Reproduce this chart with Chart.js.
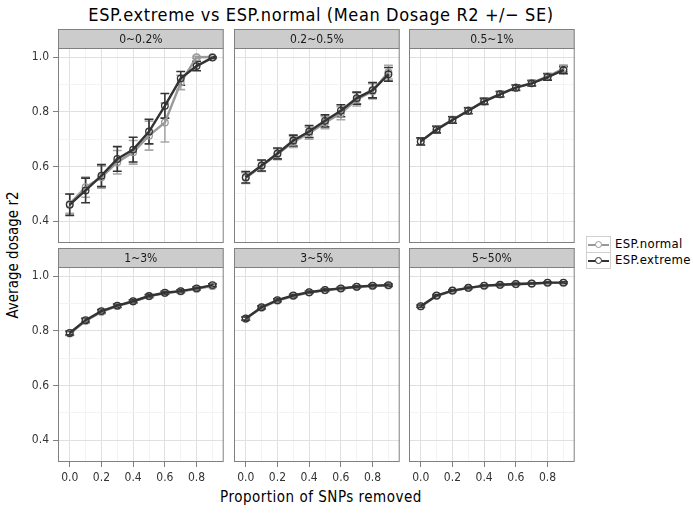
<!DOCTYPE html>
<html><head><meta charset="utf-8">
<script src="https://cdn.jsdelivr.net/npm/chart.js@4/dist/chart.umd.min.js"></script>
<style>
body{margin:0;background:#fff;width:693px;height:517px;position:relative;overflow:hidden;font-family:"Liberation Sans Narrow","DejaVu Sans Condensed","Roboto",sans-serif}
canvas{position:absolute}
.t{position:absolute;white-space:nowrap;color:#000}
.lg{position:absolute;left:586px;top:236px}
.row{position:relative;height:16px;width:110px}
.key{position:absolute;left:0;top:0;width:23px;height:15px;border:1px solid #d0d0d0;background:#fff}
.ln{position:absolute;left:1px;right:1px;top:6.5px;height:2px}
.cc{position:absolute;left:8px;top:4px;width:5px;height:5px;border-radius:50%;border:1.3px solid;background:#fff}
.lt{position:absolute;left:29px;top:0;font-size:13px;line-height:16px;color:#000;letter-spacing:0.3px}
</style></head><body>
<div class="t" style="left:0;width:642px;text-align:center;top:4px;font-size:18px;letter-spacing:0.6px">ESP.extreme vs ESP.normal (Mean Dosage R2 +/− SE)</div>
<div class="t" style="left:0;width:642px;text-align:center;top:488px;font-size:15px;letter-spacing:0.5px">Proportion of SNPs removed</div>
<div class="t" style="left:13px;top:255px;font-size:15px;transform:translate(-50%,-50%) rotate(-90deg)">Average dosage r2</div>
<div class="lg">
 <div class="row"><div class="key"><div class="ln" style="background:#999"></div><div class="cc" style="border-color:#999"></div></div><div class="lt">ESP.normal</div></div>
 <div class="row"><div class="key"><div class="ln" style="background:#333"></div><div class="cc" style="border-color:#333"></div></div><div class="lt">ESP.extreme</div></div>
</div>
<script>
// ---- data ----
const proportions = [0, 0.1, 0.2, 0.3, 0.4, 0.5, 0.6, 0.7, 0.8, 0.9];
const facetLabels = ["0~0.2%", "0.2~0.5%", "0.5~1%", "1~3%", "3~5%", "5~50%"];
const xTickValues = [0, 0.1, 0.2, 0.3, 0.4, 0.5, 0.6, 0.7, 0.8, 0.9];
const xTickLabels = ["0.0", "", "0.2", "", "0.4", "", "0.6", "", "0.8", ""];
const yTickValues = [0.4, 0.5, 0.6, 0.7, 0.8, 0.9, 1.0];
const yTickLabels = ["0.4", "", "0.6", "", "0.8", "", "1.0"];

const normal_0_02   = [0.464, 0.525, 0.561, 0.616, 0.652, 0.713, 0.761, 0.907, 0.999, 1.000];
const normalSE_0_02 = [0.035, 0.037, 0.040, 0.043, 0.043, 0.053, 0.071, 0.026, 0.004, 0.002];
const extreme_0_02   = [0.461, 0.513, 0.567, 0.628, 0.662, 0.728, 0.822, 0.922, 0.967, 0.998];
const extremeSE_0_02 = [0.039, 0.045, 0.040, 0.045, 0.045, 0.045, 0.045, 0.025, 0.017, 0.003];

const normal_02_05   = [0.558, 0.602, 0.645, 0.690, 0.722, 0.760, 0.795, 0.845, 0.875, 0.945];
const normalSE_02_05 = [0.020, 0.020, 0.020, 0.020, 0.022, 0.022, 0.024, 0.024, 0.028, 0.025];
const extreme_02_05   = [0.561, 0.604, 0.648, 0.695, 0.728, 0.767, 0.804, 0.850, 0.879, 0.937];
const extremeSE_02_05 = [0.021, 0.020, 0.020, 0.020, 0.022, 0.022, 0.022, 0.022, 0.028, 0.025];

const normal_05_1   = [0.692, 0.736, 0.771, 0.805, 0.839, 0.865, 0.889, 0.905, 0.929, 0.958];
const normalSE_05_1 = [0.013, 0.012, 0.012, 0.011, 0.011, 0.010, 0.010, 0.010, 0.012, 0.013];
const extreme_05_1   = [0.692, 0.735, 0.770, 0.804, 0.838, 0.864, 0.888, 0.904, 0.927, 0.952];
const extremeSE_05_1 = [0.013, 0.012, 0.012, 0.011, 0.011, 0.010, 0.010, 0.010, 0.012, 0.013];

const normal_1_3   = [0.790, 0.836, 0.869, 0.890, 0.907, 0.926, 0.938, 0.944, 0.953, 0.963];
const normalSE_1_3 = [0.007, 0.007, 0.006, 0.006, 0.005, 0.005, 0.005, 0.005, 0.005, 0.005];
const extreme_1_3   = [0.792, 0.839, 0.872, 0.892, 0.908, 0.927, 0.939, 0.945, 0.955, 0.967];
const extremeSE_1_3 = [0.007, 0.007, 0.006, 0.006, 0.005, 0.005, 0.005, 0.005, 0.005, 0.005];

const normal_3_5   = [0.844, 0.884, 0.910, 0.927, 0.940, 0.948, 0.954, 0.960, 0.963, 0.965];
const normalSE_3_5 = [0.006, 0.005, 0.005, 0.004, 0.004, 0.004, 0.004, 0.004, 0.004, 0.004];
const extreme_3_5   = [0.845, 0.886, 0.912, 0.929, 0.941, 0.949, 0.955, 0.961, 0.965, 0.967];
const extremeSE_3_5 = [0.006, 0.005, 0.005, 0.004, 0.004, 0.004, 0.004, 0.004, 0.004, 0.004];

const normal_5_50   = [0.889, 0.927, 0.946, 0.956, 0.964, 0.967, 0.970, 0.972, 0.975, 0.975];
const normalSE_5_50 = [0.004, 0.003, 0.003, 0.003, 0.003, 0.003, 0.003, 0.003, 0.003, 0.003];
const extreme_5_50   = [0.890, 0.929, 0.947, 0.957, 0.965, 0.968, 0.971, 0.973, 0.976, 0.976];
const extremeSE_5_50 = [0.004, 0.003, 0.003, 0.003, 0.003, 0.003, 0.003, 0.003, 0.003, 0.003];

const panelNormal = [normal_0_02, normal_02_05, normal_05_1, normal_1_3, normal_3_5, normal_5_50];
const panelNormalSE = [normalSE_0_02, normalSE_02_05, normalSE_05_1, normalSE_1_3, normalSE_3_5, normalSE_5_50];
const panelExtreme = [extreme_0_02, extreme_02_05, extreme_05_1, extreme_1_3, extreme_3_5, extreme_5_50];
const panelExtremeSE = [extremeSE_0_02, extremeSE_02_05, extremeSE_05_1, extremeSE_1_3, extremeSE_3_5, extremeSE_5_50];

// ---- layout / style ----
const FONT = '"Liberation Sans Narrow","DejaVu Sans Condensed","Roboto",sans-serif';
Chart.defaults.font.family = FONT;
const PANEL_LEFT = [58, 234, 409];
const PANEL_TOP = [48, 267];
const PW = 171, PH = 195, YW = 58, XH = 30, ST = 19;
const MAJOR = '#e0e0e0', MINOR = '#f3f3f3', BORDER = '#808080';
const COL_EXT = '#333333', COL_NOR = '#9a9a9a';

const panelPlugin = {
  id: 'panelDeco',
  beforeDatasetsDraw(chart) {
    const ctx = chart.ctx, xs = chart.scales.x, ys = chart.scales.y, a = chart.chartArea;
    ctx.save();
    ctx.beginPath(); ctx.rect(a.left, a.top, a.right - a.left, a.bottom - a.top); ctx.clip();
    const order = [1, 0];
    order.forEach(di => {
      const ds = chart.data.datasets[di];
      ctx.strokeStyle = ds.errColor; ctx.lineWidth = 1.6;
      ds.data.forEach((p, j) => {
        const se = ds.se[j];
        const x = xs.getPixelForValue(p.x);
        const x1 = xs.getPixelForValue(p.x - 0.028), x2 = xs.getPixelForValue(p.x + 0.028);
        const yt = ys.getPixelForValue(p.y + se), yb = ys.getPixelForValue(p.y - se);
        ctx.beginPath();
        ctx.moveTo(x, yt); ctx.lineTo(x, yb);
        ctx.moveTo(x1, yt); ctx.lineTo(x2, yt);
        ctx.moveTo(x1, yb); ctx.lineTo(x2, yb);
        ctx.stroke();
      });
    });
    ctx.restore();
  },
  afterDraw(chart, args, opts) {
    const ctx = chart.ctx, a = chart.chartArea;
    ctx.save();
    ctx.strokeStyle = BORDER; ctx.lineWidth = 1;
    ctx.strokeRect(a.left + 0.5, a.top + 0.5, a.right - a.left - 1, a.bottom - a.top - 1);
    ctx.fillStyle = '#cccccc';
    ctx.fillRect(a.left, 0, a.right - a.left, a.top + 1);
    ctx.strokeRect(a.left + 0.5, 0.5, a.right - a.left - 1, a.top);
    ctx.fillStyle = '#1a1a1a';
    ctx.font = '12px ' + FONT;
    ctx.textAlign = 'center'; ctx.textBaseline = 'middle';
    ctx.fillText(opts.label, (a.left + a.right) / 2, a.top / 2 + 1);
    ctx.restore();
  }
};

function makePanel(i) {
  const col = i % 3, row = Math.floor(i / 3);
  const showY = col === 0, showX = row === 1;
  const canvas = document.createElement('canvas');
  canvas.width = YW + PW; canvas.height = ST + PH + XH;
  canvas.style.left = (PANEL_LEFT[col] - YW) + 'px';
  canvas.style.top = (PANEL_TOP[row] - ST) + 'px';
  document.body.appendChild(canvas);
  const isMajorX = v => Math.round(v * 10) % 2 === 0;
  const isMajorY = v => Math.round(v * 10) % 2 === 0;
  const mk = (vals) => proportions.map((x, j) => ({ x: x, y: vals[j] }));
  new Chart(canvas, {
    type: 'line',
    data: {
      datasets: [
        { label: 'ESP.extreme', data: mk(panelExtreme[i]), se: panelExtremeSE[i], errColor: COL_EXT,
          borderColor: COL_EXT, borderWidth: 2.4, pointRadius: 3.3, pointBorderWidth: 1.3,
          pointBorderColor: COL_EXT, pointBackgroundColor: 'rgba(255,255,255,0)', order: 0, tension: 0 },
        { label: 'ESP.normal', data: mk(panelNormal[i]), se: panelNormalSE[i], errColor: '#a8a8a8',
          borderColor: COL_NOR, borderWidth: 2.4, pointRadius: 3.3, pointBorderWidth: 1.3,
          pointBorderColor: COL_NOR, pointBackgroundColor: 'rgba(255,255,255,0)', order: 1, tension: 0 }
      ]
    },
    options: {
      responsive: false, animation: false, events: [],
      layout: { padding: { top: ST, left: 0, right: 0, bottom: 0 } },
      plugins: { legend: { display: false }, tooltip: { enabled: false }, panelDeco: { label: facetLabels[i] } },
      scales: {
        x: {
          type: 'linear', min: -0.074, max: 0.971,
          afterBuildTicks: s => { s.ticks = xTickValues.map(v => ({ value: v })); },
          afterFit: s => { s.height = XH; },
          border: { display: false },
          grid: { color: c => isMajorX(c.tick.value) ? MAJOR : MINOR, lineWidth: 1, tickLength: 5,
                  tickColor: c => (showX && isMajorX(c.tick.value)) ? BORDER : 'rgba(0,0,0,0)' },
          ticks: { autoSkip: false, maxRotation: 0, padding: 4, font: { size: 12 },
                   color: showX ? '#333' : 'rgba(0,0,0,0)',
                   callback: (v, idx) => xTickLabels[idx] }
        },
        y: {
          type: 'linear', min: 0.321, max: 1.033,
          afterBuildTicks: s => { s.ticks = yTickValues.map(v => ({ value: v })); },
          afterFit: s => { s.width = YW; },
          border: { display: false },
          grid: { color: c => isMajorY(c.tick.value) ? MAJOR : MINOR, lineWidth: 1, tickLength: 5,
                  tickColor: c => (showY && isMajorY(c.tick.value)) ? BORDER : 'rgba(0,0,0,0)' },
          ticks: { autoSkip: false, padding: 4, font: { size: 12 },
                   color: showY ? '#333' : 'rgba(0,0,0,0)',
                   callback: (v, idx) => yTickLabels[idx] }
        }
      }
    },
    plugins: [panelPlugin]
  });
}
for (let i = 0; i < 6; i++) makePanel(i);
</script>
</body></html>
